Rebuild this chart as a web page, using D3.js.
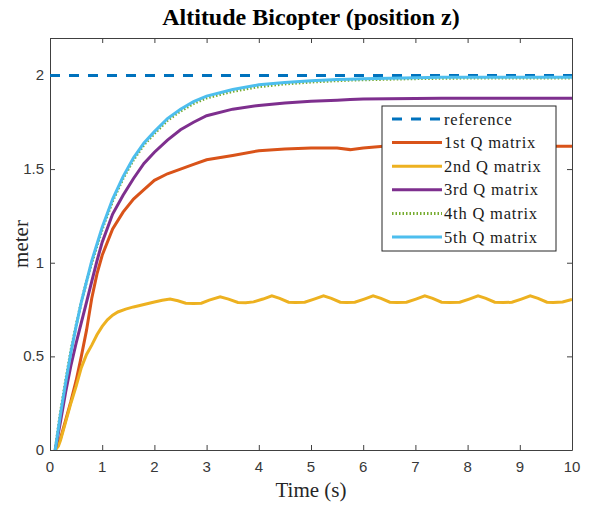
<!DOCTYPE html>
<html>
<head>
<meta charset="utf-8">
<script src="https://cdn.jsdelivr.net/npm/d3@7"></script>
<style>
    html, body { margin: 0; padding: 0; background: #fff; }
    svg { display: block; }
</style>
</head>
<body>
<div id="chart"></div>
<script>
// Values (time in seconds, altitude in meters)
const time = [0.1, 0.2, 0.3, 0.4, 0.5, 0.6, 0.7, 0.8, 0.9, 1.0,
    1.2, 1.4, 1.6, 1.8, 2.0, 2.25, 2.5, 2.75, 3.0, 3.5,
    4.0, 4.5, 5.0, 5.5, 5.75, 6.0, 6.5, 7.0, 7.5, 8.0,
    8.5, 9.0, 9.5, 10.0];

const q1 = [0, 0.06, 0.16, 0.26, 0.37, 0.5, 0.64, 0.81, 0.94, 1.04,
    1.18, 1.27, 1.34, 1.39, 1.44, 1.475, 1.5, 1.525, 1.55, 1.573,
    1.598, 1.607, 1.612, 1.612, 1.604, 1.613, 1.624, 1.624, 1.623, 1.622,
    1.622, 1.622, 1.622, 1.622];

const q3 = [0, 0.15, 0.31, 0.45, 0.57, 0.68, 0.79, 0.90, 1.01, 1.11,
    1.26, 1.36, 1.45, 1.53, 1.59, 1.655, 1.71, 1.75, 1.785, 1.82,
    1.84, 1.853, 1.862, 1.868, 1.871, 1.874, 1.876, 1.877, 1.878, 1.878,
    1.878, 1.878, 1.878, 1.878];

const q4 = [0, 0.2, 0.37, 0.53, 0.665, 0.79, 0.9, 1.0, 1.09, 1.18,
    1.33, 1.45, 1.55, 1.63, 1.69, 1.76, 1.81, 1.85, 1.88, 1.915,
    1.94, 1.955, 1.965, 1.972, 1.975, 1.977, 1.98, 1.983, 1.985, 1.986,
    1.987, 1.987, 1.987, 1.987];

const q5 = [0, 0.19, 0.36, 0.52, 0.66, 0.79, 0.90, 1.01, 1.10, 1.19,
    1.34, 1.46, 1.56, 1.64, 1.70, 1.77, 1.82, 1.86, 1.89, 1.925,
    1.95, 1.962, 1.972, 1.978, 1.98, 1.982, 1.985, 1.988, 1.99, 1.99,
    1.99, 1.99, 1.99, 1.99];

// 2nd Q matrix oscillates, so it gets its own finer time base
const time2 = [0.1, 0.16, 0.2, 0.3, 0.4, 0.5, 0.6, 0.7, 0.8, 0.9,
    1.0, 1.1, 1.2, 1.3, 1.45, 1.6, 1.8, 2.0, 2.15, 2.3,
    2.45, 2.6, 2.75, 2.9, 3.05, 3.26, 3.42, 3.6, 3.75, 3.9,
    4.08, 4.25, 4.4, 4.57, 4.7, 4.88, 5.06, 5.24, 5.39, 5.56,
    5.68, 5.84, 6.02, 6.19, 6.34, 6.51, 6.65, 6.83, 7.01, 7.18,
    7.33, 7.5, 7.66, 7.85, 8.03, 8.2, 8.35, 8.52, 8.68, 8.85,
    9.03, 9.2, 9.35, 9.52, 9.64, 9.82, 10.0];

const q2 = [0, 0.02, 0.05, 0.15, 0.25, 0.34, 0.44, 0.51, 0.56, 0.615,
    0.66, 0.695, 0.72, 0.737, 0.752, 0.764, 0.777, 0.79, 0.8, 0.806,
    0.797, 0.784, 0.782, 0.784, 0.8, 0.818, 0.806, 0.788, 0.786, 0.791,
    0.806, 0.823, 0.81, 0.789, 0.787, 0.789, 0.806, 0.823, 0.81, 0.789,
    0.787, 0.789, 0.806, 0.823, 0.81, 0.789, 0.787, 0.789, 0.806, 0.823,
    0.81, 0.789, 0.787, 0.789, 0.806, 0.823, 0.81, 0.789, 0.787, 0.789,
    0.806, 0.823, 0.81, 0.789, 0.787, 0.79, 0.804];

const refTime = [0, 10];
const refValue = [2, 2];

const xTicks = [0, 1, 2, 3, 4, 5, 6, 7, 8, 9, 10];
const yTicks = [0, 0.5, 1, 1.5, 2];

const seriesNames = ['reference', '1st Q matrix', '2nd Q matrix', '3rd Q matrix', '4th Q matrix', '5th Q matrix'];
const seriesColors = ['#0072BD', '#D95319', '#EDB120', '#7E2F8E', '#77AC30', '#4DBEEE'];

const width = 590;
const height = 505;
const margin = { top: 38, right: 18, bottom: 55, left: 50 };
const innerWidth = width - margin.left - margin.right;
const innerHeight = height - margin.top - margin.bottom;

const serif = '"Liberation Serif", "Times New Roman", serif';
const sans = '"Liberation Sans", Arial, sans-serif';
const axisColor = '#404040';

const svg = d3.select('#chart')
    .append('svg')
    .attr('width', width)
    .attr('height', height);

const g = svg.append('g')
    .attr('transform', `translate(${margin.left},${margin.top})`);

const xScale = d3.scaleLinear().domain([0, 10]).range([0, innerWidth]);
const yScale = d3.scaleLinear().domain([0, 2.2]).range([innerHeight, 0]);

// clip so nothing spills over the box
svg.append('defs').append('clipPath')
    .attr('id', 'plot-clip')
    .append('rect')
    .attr('width', innerWidth)
    .attr('height', innerHeight);

// MATLAB style: ticks point inward, on all four sides.
// Axis groups carry the tick marks; labels are written separately below.
function styleAxis(sel) {
    sel.select('.domain').attr('stroke', axisColor).attr('stroke-width', 1);
    sel.selectAll('.tick line').attr('stroke', axisColor);
    sel.selectAll('.tick text').remove();
}

g.append('g')
    .attr('transform', `translate(0,${innerHeight})`)
    .call(d3.axisBottom(xScale).tickValues(xTicks).tickSizeInner(-5).tickSizeOuter(0))
    .call(styleAxis);

g.append('g')
    .call(d3.axisTop(xScale).tickValues(xTicks).tickSizeInner(-5).tickSizeOuter(0))
    .call(styleAxis);

g.append('g')
    .call(d3.axisLeft(yScale).tickValues(yTicks).tickSizeInner(-5).tickSizeOuter(0))
    .call(styleAxis);

g.append('g')
    .attr('transform', `translate(${innerWidth},0)`)
    .call(d3.axisRight(yScale).tickValues(yTicks).tickSizeInner(-5).tickSizeOuter(0))
    .call(styleAxis);

// Tick labels
svg.append('g')
    .selectAll('text')
    .data(xTicks)
    .join('text')
    .attr('x', d => margin.left + xScale(d))
    .attr('y', margin.top + innerHeight + 22)
    .attr('text-anchor', 'middle')
    .attr('fill', '#383838')
    .attr('font-family', sans)
    .attr('font-size', 15)
    .text(d => String(d));

svg.append('g')
    .selectAll('text')
    .data(yTicks)
    .join('text')
    .attr('x', margin.left - 6)
    .attr('y', d => margin.top + yScale(d) + 5)
    .attr('text-anchor', 'end')
    .attr('fill', '#383838')
    .attr('font-family', sans)
    .attr('font-size', 15)
    .text(d => String(d));

// Lines
const line = d3.line()
    .x(d => xScale(d[0]))
    .y(d => yScale(d[1]));

const zip = (ts, vs) => ts.map((t, i) => [t, vs[i]]);

const series = [
    { data: zip(refTime, refValue), dash: '10,9' },
    { data: zip(time, q1) },
    { data: zip(time2, q2) },
    { data: zip(time, q3) },
    { data: zip(time, q4), dash: '1.5,2' },
    { data: zip(time, q5) }
];

const plot = g.append('g').attr('clip-path', 'url(#plot-clip)');

series.forEach((s, i) => {
    plot.append('path')
        .datum(s.data)
        .attr('fill', 'none')
        .attr('stroke', seriesColors[i])
        .attr('stroke-width', 3)
        .attr('stroke-dasharray', s.dash || null)
        .attr('d', line);
});

// Legend
const legend = svg.append('g').attr('transform', 'translate(382,106)');

legend.append('rect')
    .attr('width', 174)
    .attr('height', 145)
    .attr('fill', '#fff')
    .attr('stroke', '#262626')
    .attr('stroke-width', 1);

seriesNames.forEach((name, i) => {
    const cy = 13 + i * 23.6;
    legend.append('line')
        .attr('x1', 10).attr('x2', 60)
        .attr('y1', cy).attr('y2', cy)
        .attr('stroke', seriesColors[i])
        .attr('stroke-width', 3)
        .attr('stroke-dasharray', series[i].dash || null);
    legend.append('text')
        .attr('x', 62)
        .attr('y', cy + 5.5)
        .attr('fill', '#1a1a1a')
        .attr('font-family', serif)
        .attr('font-size', 16.5)
        .attr('letter-spacing', 0.8)
        .text(name);
});

// Title and axis labels
svg.append('text')
    .attr('x', margin.left + innerWidth / 2)
    .attr('y', 25)
    .attr('text-anchor', 'middle')
    .attr('fill', '#000')
    .attr('font-family', serif)
    .attr('font-size', 24)
    .attr('font-weight', 'bold')
    .text('Altitude Bicopter (position z)');

svg.append('text')
    .attr('x', margin.left + innerWidth / 2)
    .attr('y', 497)
    .attr('text-anchor', 'middle')
    .attr('fill', '#262626')
    .attr('font-family', serif)
    .attr('font-size', 21)
    .text('Time (s)');

svg.append('text')
    .attr('transform', `translate(28,${margin.top + innerHeight / 2}) rotate(-90)`)
    .attr('text-anchor', 'middle')
    .attr('fill', '#262626')
    .attr('font-family', serif)
    .attr('font-size', 21)
    .text('meter');
</script>
</body>
</html>
